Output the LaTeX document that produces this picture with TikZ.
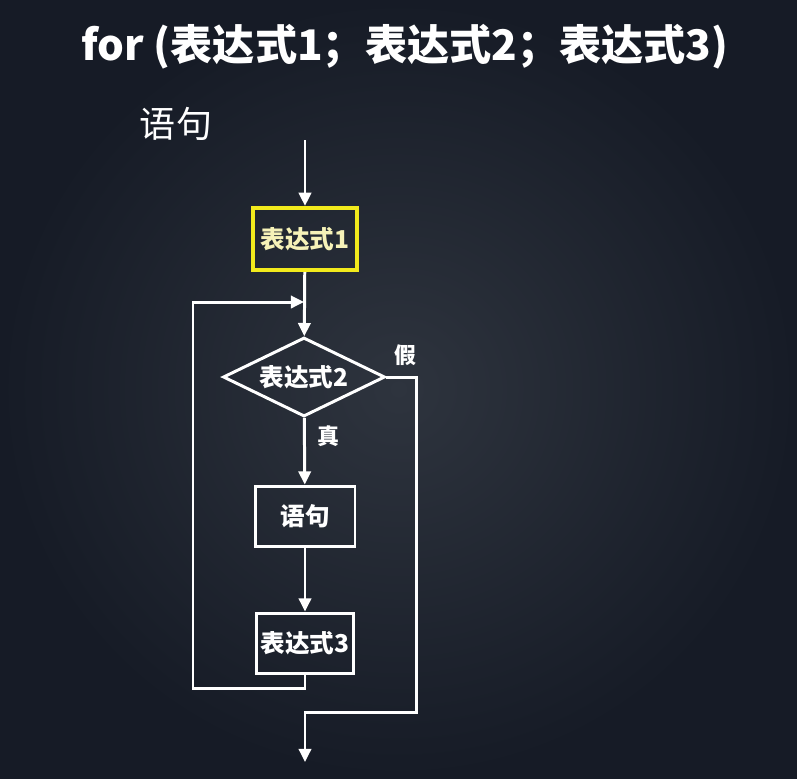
\documentclass[tikz,border=0pt]{standalone}
\usepackage{fontspec}
\newfontfamily\cjk{Noto Sans CJK SC}
\usepackage{xcolor}
\usepackage{tikz}
\usetikzlibrary{arrows.meta,positioning,shapes.geometric,calc}
\definecolor{bgdark}{HTML}{161B26}
\definecolor{bgmid}{HTML}{2E343E}
\definecolor{hiyel}{HTML}{F2EA1C}
\definecolor{hitext}{HTML}{F6F2B8}
\tikzset{
  flow/.style={-{Triangle[length=7.5pt, width=7pt]}, line width=1.7pt, white},
  line/.style={line width=1.7pt, white},
  stepbox/.style={rectangle, draw=white, line width=1.7pt, text=white, inner sep=0pt, font=\cjk\bfseries\fontsize{14}{16}\selectfont},
  hibox/.style={stepbox, draw=hiyel, line width=2.4pt, text=hitext},
  testbox/.style={diamond, aspect=2, draw=white, line width=1.7pt, text=white, inner sep=0pt, font=\cjk\bfseries\fontsize{14}{16}\selectfont},
  lbl/.style={text=white, font=\cjk\bfseries\fontsize{12.5}{14}\selectfont},
}

\begin{document}
\begin{tikzpicture}[x=0.02cm, y=-0.02cm]
% --- background ---
\shade[inner color=bgmid, outer color=bgdark] (0,0) rectangle (797,778);
\useasboundingbox (0,0) rectangle (797,778);
% --- heading ---
\node[text=white, font=\cjk\bfseries\fontsize{24}{26}\selectfont] (title) at (405,47) {for (表达式1；表达式2；表达式3)};
\node[text=white, font=\cjk\fontsize{20.5}{22}\selectfont] (body) at (176,124) {语句};
% --- flow chart ---
\coordinate (start) at (305,140);
\node[hibox, minimum width=2.08cm, minimum height=1.24cm] (e1) at (305,239) {表达式1};
\node[testbox, minimum width=3.24cm, minimum height=1.58cm] (cond) at (304,377) {表达式2};
\node[stepbox, minimum width=2.0cm, minimum height=1.2cm] (stmt) at (305,516) {语句};
\node[stepbox, minimum width=1.94cm, minimum height=1.2cm] (e3) at (305,643) {表达式3};
\coordinate (join) at (304,302);
\coordinate (lt) at (193,302);
\coordinate (lb) at (193,688);
\coordinate (rb) at (416,712);
\coordinate (finish) at (305,762);
\node[lbl] (no) at (405,355) {假};
\node[lbl] (yes) at (328,436) {真};
% --- connectors ---
\draw[flow] (start) -- (e1);
\draw[flow] (e1) -- (cond);
\draw[flow] (cond) -- (stmt);
\draw[flow] (stmt) -- (e3);
\draw[flow] (e3.south) |- (lb) -- (lt) -- (join);
\draw[flow] (cond.east) -| (rb) -| (finish);
\end{tikzpicture}
\end{document}
